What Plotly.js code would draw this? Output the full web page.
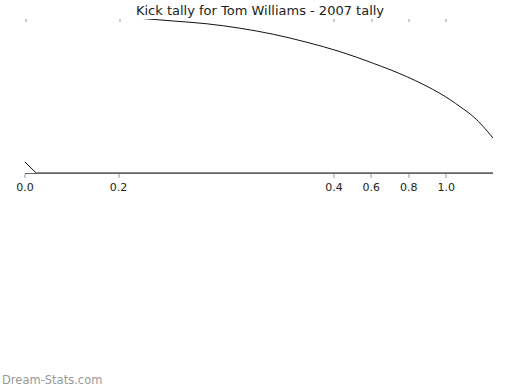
<!DOCTYPE html>
<html>
<head>
<meta charset="utf-8">
<script src="https://cdn.plot.ly/plotly-3.0.1.min.js"></script>
<style>html,body{margin:0;padding:0;background:#fff;}#chart{width:520px;height:390px;}</style>
</head>
<body>
<div id="chart"></div>
<script>
const chartTitle = 'Kick tally for Tom Williams - 2007 tally';
const tickValues = [-1.2495, -0.75, 0.4, 0.6, 0.8, 1.0];
const tickLabels = ['0.0', '0.2', '0.4', '0.6', '0.8', '1.0'];
const curveX = [-0.63, -0.458, -0.279, -0.101, 0.076, 0.255, 0.433, 0.611, 0.789, 0.967, 1.074, 1.145, 1.198, 1.25];
const curveY = [1.004, 0.987, 0.969, 0.940, 0.901, 0.849, 0.788, 0.712, 0.626, 0.517, 0.431, 0.366, 0.301, 0.227];
const baseX = [-1.25, -1.19, 1.25];
const baseY = [0.071, 0, 0];
const watermark = 'Dream-Stats.com';

const traces = [
  {x: curveX, y: curveY, type: 'scatter', mode: 'lines', line: {color: '#111', width: 1, shape: 'spline', smoothing: 1}, hoverinfo: 'skip'},
  {x: baseX, y: baseY, type: 'scatter', mode: 'lines', line: {color: '#111', width: 1}, hoverinfo: 'skip'},
  {x: [0], y: [0.5], xaxis: 'x2', type: 'scatter', mode: 'markers', marker: {opacity: 0}, hoverinfo: 'skip'}
];

const layout = {
  width: 520, height: 390,
  margin: {l: 25, r: 27, t: 19, b: 217, pad: 0},
  paper_bgcolor: '#fff', plot_bgcolor: '#fff',
  showlegend: false,
  font: {family: 'DejaVu Sans, sans-serif', color: '#222', size: 11},
  title: {text: chartTitle, x: 0.5, xanchor: 'center', y: 0.974, yref: 'container', yanchor: 'middle',
          font: {family: 'DejaVu Sans, sans-serif', size: 13, color: '#222'}},
  xaxis: {range: [-1.25, 1.25], tickmode: 'array', tickvals: tickValues, ticktext: tickLabels,
          ticks: 'outside', ticklen: 4, tickwidth: 2, tickcolor: '#ccc',
          showgrid: false, zeroline: false, showline: true, linecolor: '#666', linewidth: 1,
          tickfont: {size: 11, color: '#222'}, fixedrange: true},
  xaxis2: {range: [-1.256, 1.25], overlaying: 'x', side: 'top', tickmode: 'array', tickvals: tickValues,
           ticks: 'inside', ticklen: 3, tickwidth: 2, tickcolor: '#ccc', showticklabels: false,
           showgrid: false, zeroline: false, showline: false},
  yaxis: {range: [0, 1], visible: false, showgrid: false, zeroline: false, fixedrange: true},
  annotations: [{text: watermark, xref: 'paper', yref: 'paper', x: -25/468, y: (173-380)/154,
                 xanchor: 'left', yanchor: 'middle', showarrow: false,
                 font: {family: 'DejaVu Sans, sans-serif', size: 11.5, color: '#999'}}]
};

Plotly.newPlot('chart', traces, layout, {displayModeBar: false, staticPlot: true});
</script>
</body>
</html>
